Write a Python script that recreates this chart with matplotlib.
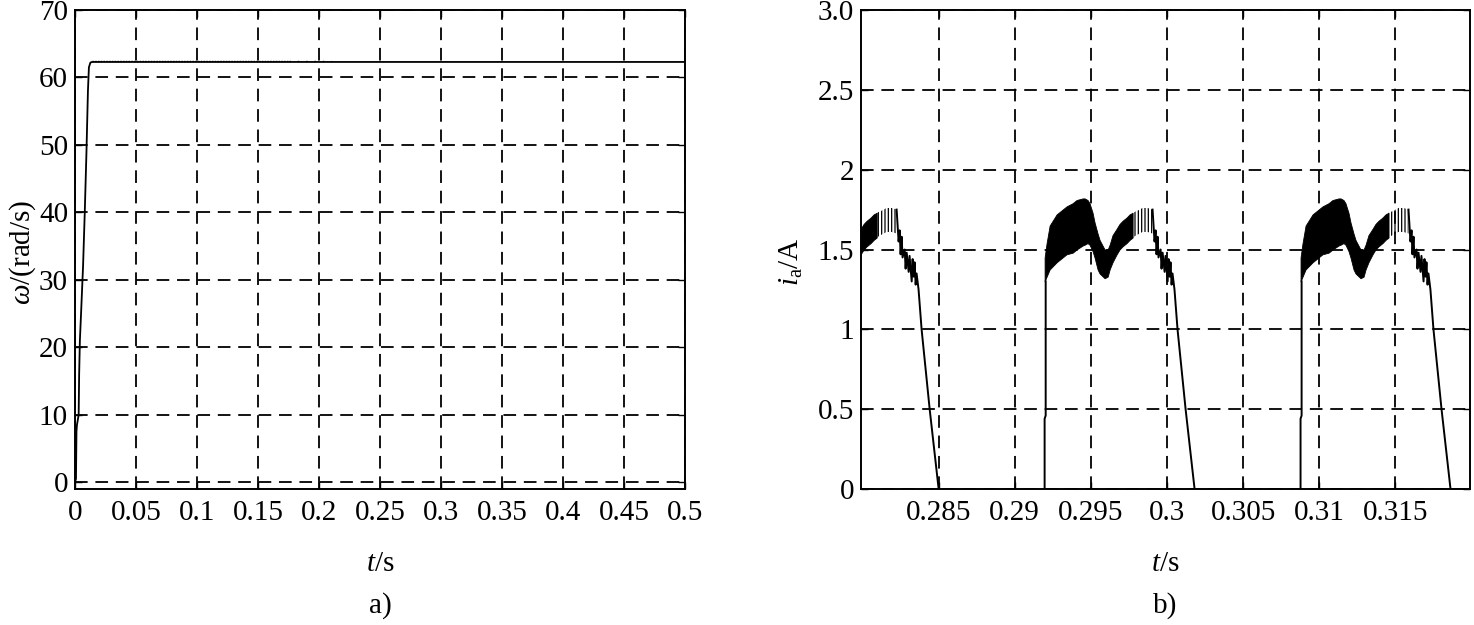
import numpy as np
import matplotlib
matplotlib.use("Agg")
import matplotlib.pyplot as plt

plt.rcParams['font.family'] = ['Liberation Serif', 'DejaVu Serif']
plt.rcParams['mathtext.fontset'] = 'custom'
plt.rcParams['mathtext.rm'] = 'Liberation Serif'
plt.rcParams['mathtext.it'] = 'Liberation Serif:italic'
plt.rcParams['hatch.linewidth'] = 0.9

# ---- a) speed response ----
speed_t = [0, 0.0008, 0.0012, 0.0016, 0.0030, 0.0034, 0.0040, 0.0052, 0.0066,
           0.0080, 0.0094, 0.0106, 0.0114, 0.0126, 0.0140, 0.5]
speed_w = [0, 0.5, 7.5, 8.5, 10, 16, 21, 26, 32, 40, 49, 58, 61.5, 62.2, 62.3, 62.3]
# small ripple visible on top of the steady line
ripple_dense_t = [0.014, 0.175]
ripple_sparse_t = [0.175, 0.21]
ripple_w = 62.5

x_ticks_a = [0, 0.05, 0.1, 0.15, 0.2, 0.25, 0.3, 0.35, 0.4, 0.45, 0.5]
x_labels_a = ['0', '0.05', '0.1', '0.15', '0.2', '0.25', '0.3', '0.35', '0.4', '0.45', '0.5']
y_ticks_a = [0, 10, 20, 30, 40, 50, 60, 70]

# ---- b) phase current, one conduction pulse (offsets in ms from pulse start) ----
pulse_start = [0.27515, 0.29196, 0.30877]   # s

env_ms = [0.0, 0.13, 0.33, 0.79, 1.18, 1.44, 1.84, 2.10, 2.50, 2.63, 2.82, 2.95,
          3.15, 3.28, 3.48, 3.61, 3.94, 4.14, 4.27, 4.46, 4.73, 4.92, 5.12, 5.38,
          5.58, 5.78, 6.04, 6.24, 6.43, 6.76, 7.09]
env_up = [1.45, 1.54, 1.65, 1.72, 1.75, 1.77, 1.79, 1.81, 1.82, 1.82, 1.81, 1.79,
          1.73, 1.67, 1.60, 1.56, 1.50, 1.50, 1.53, 1.59, 1.63, 1.66, 1.68, 1.70,
          1.72, 1.73, 1.74, 1.75, 1.76, 1.76, 1.75]
env_lo = [1.30, 1.33, 1.375, 1.42, 1.45, 1.47, 1.48, 1.50, 1.525, 1.53, 1.54, 1.53,
          1.49, 1.45, 1.375, 1.35, 1.32, 1.33, 1.375, 1.42, 1.47, 1.50, 1.52, 1.54,
          1.56, 1.575, 1.59, 1.60, 1.61, 1.61, 1.60]
dense_end_ms = 5.78

# switch-on edge
rise_ms = [0.0, 0.0, 0.07, 0.07]
rise_i = [0.0, 0.44, 0.46, 1.30]
# commutation and switch-off tail
tail_ms = [7.09, 7.22, 7.29, 7.35, 7.42, 7.48, 7.62, 7.68, 7.75, 7.88, 7.94,
           8.08, 8.14, 8.21, 8.27, 8.34, 8.40, 8.53, 8.73, 9.26, 9.85]
tail_i = [1.75, 1.55, 1.62, 1.47, 1.58, 1.45, 1.50, 1.38, 1.48, 1.36, 1.46,
          1.30, 1.44, 1.33, 1.42, 1.28, 1.35, 1.25, 1.00, 0.50, 0.00]

x_ticks_b = [0.285, 0.29, 0.295, 0.3, 0.305, 0.31, 0.315]
x_labels_b = ['0.285', '0.29', '0.295', '0.3', '0.305', '0.31', '0.315']
y_ticks_b = [0, 0.5, 1, 1.5, 2, 2.5, 3.0]
y_labels_b = ['0', '0.5', '1', '1.5', '2', '2.5', '3.0']

FS = 21
grid_kw = dict(color='k', linewidth=1.3, linestyle=(0, (7, 4.3)))

fig = plt.figure(figsize=(14.74, 6.25), dpi=100)
ax1 = fig.add_axes([75 / 1474, 1 - 489 / 625, 610 / 1474, 479 / 625])
ax2 = fig.add_axes([861 / 1474, 1 - 489 / 625, 609 / 1474, 479 / 625])

# left plot
ax1.plot(speed_t, speed_w, color='k', linewidth=1.3)
ax1.plot(ripple_dense_t, [ripple_w] * 2, color='k', linewidth=1.0, linestyle=(0, (1, 1)))
ax1.plot(ripple_sparse_t, [ripple_w] * 2, color='k', linewidth=1.0, linestyle=(0, (1, 5)))
ax1.set_xlim(0, 0.5)
ax1.set_ylim(-1, 70)
ax1.set_xticks(x_ticks_a)
ax1.set_xticklabels(x_labels_a)
ax1.set_yticks(y_ticks_a)

# right plot
env_s = np.array(env_ms) / 1000.0
env_up = np.array(env_up)
env_lo = np.array(env_lo)
dense = env_s <= dense_end_ms / 1000.0 + 1e-9
sparse = env_s >= dense_end_ms / 1000.0 - 1e-9
for t0 in pulse_start:
    ax2.fill_between(t0 + env_s[dense], env_lo[dense], env_up[dense],
                     facecolor='k', edgecolor='k', linewidth=0.6)
    ax2.fill_between(t0 + env_s[sparse], env_lo[sparse], env_up[sparse],
                     facecolor='none', edgecolor='k', hatch='|||||', linewidth=0)
    ax2.plot(t0 + np.array(rise_ms) / 1000.0, rise_i, color='k', linewidth=1.4)
    ax2.plot(t0 + np.array(tail_ms) / 1000.0, tail_i, color='k', linewidth=1.4)
ax2.set_xlim(0.2799, 0.3199)
ax2.set_ylim(0, 3.0)
ax2.set_xticks(x_ticks_b)
ax2.set_xticklabels(x_labels_b)
ax2.set_yticks(y_ticks_b)
ax2.set_yticklabels(y_labels_b)

for ax in (ax1, ax2):
    ax.grid(True, **grid_kw)
    ax.set_axisbelow(True)
    for sp in ax.spines.values():
        sp.set_linewidth(1.4)
        sp.set_color('k')
    ax.tick_params(direction='in', length=5, width=1.0, labelsize=FS,
                   top=True, right=True, colors='k')
    ax.tick_params(axis='x', pad=8)
    ax.tick_params(axis='y', pad=5)

fig.text(23 / 1474, 1 - 252 / 625, r'$\omega$/(rad/s)', rotation=90,
         ha='center', va='center', fontsize=FS)
fig.text(791 / 1474, 1 - 262 / 625, r'$i_{\mathrm{a}}$/A', rotation=90,
         ha='center', va='center', fontsize=FS)
fig.text(380 / 1474, 1 - 564 / 625, r'$t$/s', ha='center', va='center', fontsize=FS)
fig.text(1165 / 1474, 1 - 564 / 625, r'$t$/s', ha='center', va='center', fontsize=FS)
fig.text(380 / 1474, 1 - 606 / 625, 'a)', ha='center', va='center', fontsize=FS)
fig.text(1165 / 1474, 1 - 606 / 625, 'b)', ha='center', va='center', fontsize=FS)

fig.savefig('out.png', dpi=100)
